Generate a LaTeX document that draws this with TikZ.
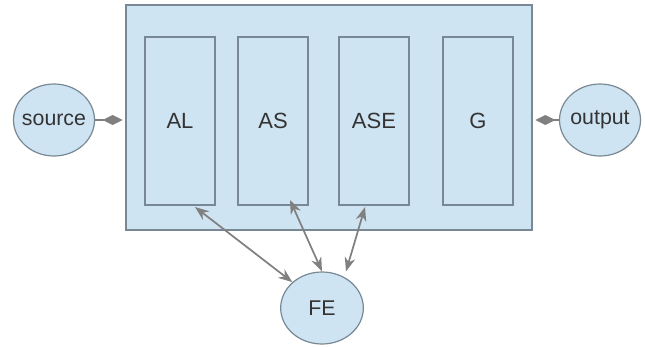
\documentclass[tikz,border=0pt]{standalone}
\usepackage{fontspec}
\setmainfont{Liberation Sans}
\usetikzlibrary{arrows.meta,shapes.geometric}
\definecolor{boxfill}{HTML}{CFE4F2}
\definecolor{boxline}{HTML}{788894}
\definecolor{linkgray}{HTML}{808080}
\definecolor{textcol}{HTML}{333333}
\newcommand{\portlabel}[1]{\makebox[0pt]{#1}}
\begin{document}
\begin{tikzpicture}[x=0.75pt,y=-0.75pt,
  frame/.style={draw=boxline,fill=boxfill,line width=0.9pt},
  unit/.style={frame,minimum width=52.5pt,minimum height=126pt,inner sep=0pt,
    font=\fontsize{16.5}{19}\selectfont,text=textcol},
  port/.style={frame,ellipse,minimum width=60.75pt,minimum height=54pt,inner sep=0pt,
    font=\fontsize{16}{19}\selectfont,text=textcol},
  link/.style={draw=linkgray,line width=1.3pt,{Stealth[length=10.5pt,width=8pt]}-{Stealth[length=10.5pt,width=8pt]}},
  joint/.style={draw=linkgray,line width=1.5pt,-{Diamond[length=15pt,width=7.5pt]}}]
\useasboundingbox (0,0) rectangle (645,346);
% enclosing block
\node[frame,minimum width=304.5pt,minimum height=168.75pt,inner sep=0pt] (block) at (329,117.5) {};
% inner units
\node[unit] (al) at (180,121) {AL};
\node[unit] (as) at (273,121) {AS};
\node[unit] (ase) at (374,121) {ASE};
\node[unit] (g) at (478,121) {G};
% terminals
\node[port] (src) at (54,120) {\portlabel{source}};
\node[port] (out) at (600,120) {\portlabel{output}};
\node[port,minimum width=62pt] (fe) at (322,308) {\portlabel{FE}};
% connections
\draw[joint,shorten >=2pt] (src) -- (block.west |- src);
\draw[joint,shorten >=2pt] (out) -- (block.east |- out);
\coordinate (alb) at (195,207);
\coordinate (asb) at (290,200);
\coordinate (aseb) at (365,207);
\draw[link] (alb) -- (fe.north west);
\draw[link] (asb) -- (fe.north);
\draw[link] (aseb) -- ([xshift=18pt]fe.north);
\end{tikzpicture}
\end{document}
